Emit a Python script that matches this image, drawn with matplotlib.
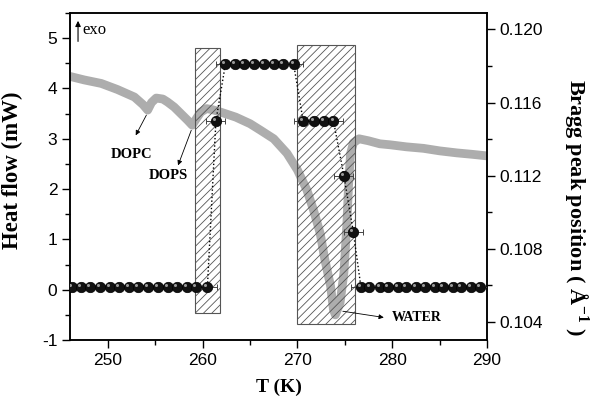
import numpy as np
import matplotlib
matplotlib.use("Agg")
import matplotlib.pyplot as plt
from matplotlib.patches import Rectangle
from matplotlib.ticker import MultipleLocator, FormatStrFormatter
from matplotlib.transforms import offset_copy

plt.rcParams['mathtext.fontset'] = 'custom'
plt.rcParams['mathtext.rm'] = 'Liberation Serif:bold'
plt.rcParams['mathtext.bf'] = 'Liberation Serif:bold'
plt.rcParams['hatch.linewidth'] = 0.6
plt.rcParams['axes.unicode_minus'] = False

# DSC heating scan (heat flow, mW)
t_dsc = [246.0, 247.5, 249.3, 251.0, 252.8, 253.7, 254.2, 254.6, 255.1, 255.8,
         256.3, 257.0, 257.7, 258.4, 258.9, 259.4, 259.8, 260.4, 261.0, 261.9,
         263.5, 265.0, 266.1, 267.5, 268.9, 270.0, 271.0, 271.7, 272.4, 272.9,
         273.5, 273.8, 274.0, 274.5, 274.9, 275.2, 275.4, 275.6, 275.9, 276.5,
         277.5, 278.7, 279.8, 281.5, 283.3, 285.0, 286.8, 288.5, 290.0]
heat_flow = [4.24, 4.17, 4.10, 3.98, 3.83, 3.68, 3.57, 3.72, 3.81, 3.79,
             3.73, 3.63, 3.50, 3.37, 3.27, 3.42, 3.53, 3.60, 3.58, 3.53,
             3.43, 3.30, 3.17, 3.00, 2.71, 2.38, 1.98, 1.58, 1.12, 0.59,
             0.07, -0.40, -0.50, -0.26, 0.33, 1.25, 2.10, 2.70, 2.92, 3.00,
             2.96, 2.90, 2.88, 2.84, 2.81, 2.76, 2.72, 2.69, 2.66]

# Bragg peak position from the diffraction scans
t_bragg = [246.2, 247.2, 248.1, 249.2, 250.2, 251.2, 252.2, 253.2, 254.2, 255.3,
           256.3, 257.3, 258.3, 259.3, 260.5, 261.4, 262.4, 263.4, 264.4, 265.4,
           266.5, 267.5, 268.5, 269.6, 270.6, 271.7, 272.8, 273.8, 274.9, 275.9,
           276.7, 277.6, 278.7, 279.6, 280.6, 281.5, 282.5, 283.5, 284.5, 285.4,
           286.4, 287.3, 288.3, 289.3]
q_bragg = [0.1059, 0.1059, 0.1059, 0.1059, 0.1059, 0.1059, 0.1059, 0.1059, 0.1059, 0.1059,
           0.1059, 0.1059, 0.1059, 0.1059, 0.1059, 0.1150, 0.1181, 0.1181, 0.1181, 0.1181,
           0.1181, 0.1181, 0.1181, 0.1181, 0.1150, 0.1150, 0.1150, 0.1150, 0.1120, 0.1089,
           0.1059, 0.1059, 0.1059, 0.1059, 0.1059, 0.1059, 0.1059, 0.1059, 0.1059, 0.1059,
           0.1059, 0.1059, 0.1059, 0.1059]
t_err = [1.0] * len(t_bragg)

# transition regions (T start, T end, heat flow bottom, heat flow top)
regions = [(259.2, 261.8, -0.46, 4.80),
           (270.0, 276.1, -0.68, 4.87)]

serif = 'Liberation Serif'
sans = 'Liberation Sans'

fig = plt.figure(figsize=(5.9, 3.98), dpi=100)
ax = fig.add_axes([0.1186, 0.1457, 0.7068, 0.8216])
ax2 = ax.twinx()

ax.plot(t_dsc, heat_flow, color='#adadad', lw=6.3, solid_capstyle='butt',
        solid_joinstyle='round', zorder=2)

for t0, t1, h0, h1 in regions:
    ax.add_patch(Rectangle((t0, h0), t1 - t0, h1 - h0, facecolor='none',
                           edgecolor='#555555', lw=0.8, hatch='////', zorder=3))

ax.set_xlim(246, 290)
ax.set_ylim(-1, 5.5)
ax2.set_ylim(0.1030, 0.1209)

ax2.errorbar(t_bragg, q_bragg, xerr=t_err, fmt='none', ecolor='#444444',
             elinewidth=0.7, capsize=2.5, capthick=0.7, zorder=4)
ax2.plot(t_bragg, q_bragg, ls=':', color='k', lw=1.0, zorder=4)
ax2.plot(t_bragg, q_bragg, ls='none', marker='o', ms=7.5, mfc='#111111',
         mec='#000000', mew=0.5, zorder=5)
hl = offset_copy(ax2.transData, fig=fig, x=-1.4, y=1.4, units='points')
ax2.plot(t_bragg, q_bragg, ls='none', marker='o', ms=2.2, mfc='#9a9a9a',
         mec='none', transform=hl, zorder=6)

# annotations
ax.annotate('', xy=(246.85, 5.40), xytext=(246.85, 4.88),
            arrowprops=dict(arrowstyle='-|>', color='k', lw=0.8, mutation_scale=8))
ax.text(247.3, 5.17, 'exo', fontsize=12, family=serif, va='center', ha='left')

arrow = dict(arrowstyle='-|>', color='k', lw=0.6, mutation_scale=7)
ax.annotate('', xy=(252.8, 3.02), xytext=(254.2, 3.52), arrowprops=arrow)
ax.text(252.5, 2.68, 'DOPC', fontsize=10.5, family=serif, weight='bold',
        ha='center', va='center')
ax.annotate('', xy=(257.3, 2.42), xytext=(258.9, 3.22), arrowprops=arrow)
ax.text(256.4, 2.28, 'DOPS', fontsize=10.5, family=serif, weight='bold',
        ha='center', va='center')
ax.annotate('', xy=(279.4, -0.56), xytext=(274.5, -0.42), arrowprops=arrow)
ax.text(282.6, -0.56, 'WATER', fontsize=10, family=serif, weight='bold',
        ha='center', va='center')

# axes styling
ax.xaxis.set_major_locator(MultipleLocator(10))
ax.xaxis.set_minor_locator(MultipleLocator(5))
ax.yaxis.set_major_locator(MultipleLocator(1))
ax.yaxis.set_minor_locator(MultipleLocator(0.5))
ax2.yaxis.set_major_locator(MultipleLocator(0.004))
ax2.yaxis.set_minor_locator(MultipleLocator(0.002))
ax2.yaxis.set_major_formatter(FormatStrFormatter('%.3f'))

for a in (ax, ax2):
    a.tick_params(which='major', direction='out', length=6, width=1.0,
                  labelsize=12.5, pad=3)
    a.tick_params(which='minor', direction='out', length=3.5, width=1.0)
    for s in a.spines.values():
        s.set_linewidth(1.1)
    for lab in a.get_xticklabels() + a.get_yticklabels():
        lab.set_family(sans)
ax.tick_params(top=False, right=False)
ax.tick_params(which='minor', top=False, right=False)
ax2.tick_params(axis='x', which='both', top=False, bottom=False)

ax.set_xlabel('T (K)', fontsize=14, family=serif, weight='bold')
ax.set_ylabel('Heat flow (mW)', fontsize=16.5, family=serif, weight='bold')
ax2.set_ylabel('Bragg peak position ( Å$^{-1}$ )', fontsize=16, family=serif,
               weight='bold', rotation=-90, va='center')
ax.xaxis.set_label_coords(0.5, -0.118)
ax.yaxis.set_label_coords(-0.113, 0.52)
ax2.yaxis.set_label_coords(1.212, 0.407)

fig.savefig('out.png', dpi=100)
